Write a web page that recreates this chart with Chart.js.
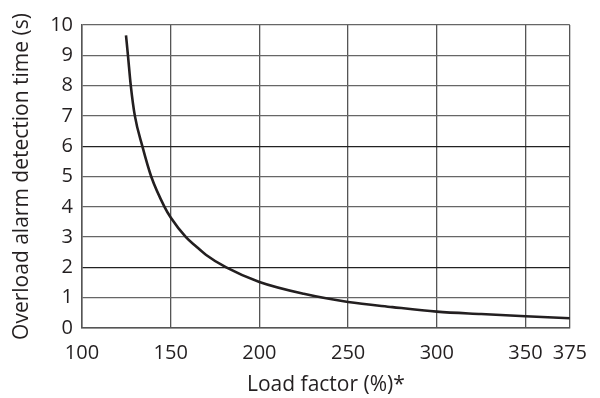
<!DOCTYPE html>
<html>
<head>
<meta charset="utf-8">
<script src="https://cdn.jsdelivr.net/npm/chart.js@4"></script>
<style>
  html, body { margin: 0; padding: 0; background: #fff; }
  #wrap { width: 600px; height: 398px; }
</style>
</head>
<body>
<div id="wrap"><canvas id="chart" width="600" height="398"></canvas></div>
<script>
// load factor (%) vs detection time (s)
const loadFactor = [124.8, 125.9, 127.5, 129.8, 134, 139, 146.5, 150, 158.6, 164.2, 169.8, 181.3, 200, 225, 250, 275, 300, 325, 350, 375];
const detectTime = [9.66, 9, 8, 7, 6, 5, 4, 3.65, 3, 2.7, 2.42, 2, 1.52, 1.13, 0.86, 0.69, 0.54, 0.46, 0.39, 0.32];
const xTicks = [100, 150, 200, 250, 300, 350, 375];
const yTicks = [0, 1, 2, 3, 4, 5, 6, 7, 8, 9, 10];

const FONT = "'Open Sans', 'Noto Sans', sans-serif";
const INK = '#231f20';

const points = loadFactor.map((x, i) => ({ x: x, y: detectTime[i] }));

new Chart(document.getElementById('chart'), {
    type: 'line',
    data: {
        datasets: [{
            data: points,
            borderColor: INK,
            borderWidth: 2.6,
            pointRadius: 0,
            fill: false,
            cubicInterpolationMode: 'monotone'
        }]
    },
    options: {
        responsive: false,
        animation: false,
        layout: { padding: { top: 25, right: 27, left: 0, bottom: 0 } },
        plugins: { legend: { display: false }, tooltip: { enabled: false } },
        scales: {
            x: {
                type: 'linear',
                min: 100,
                max: 375,
                afterBuildTicks: s => { s.ticks = xTicks.map(v => ({ value: v })); },
                afterFit: s => { s.height = 70; },
                grid: { color: '#555', lineWidth: 1.3, drawTicks: false },
                border: { color: '#555', width: 1.5 },
                ticks: { color: INK, font: { family: FONT, size: 20 }, padding: 13, maxRotation: 0 },
                title: {
                    display: true,
                    text: 'Load factor (%)*',
                    color: INK,
                    font: { family: FONT, size: 21 },
                    padding: { top: 0, bottom: 0 }
                }
            },
            y: {
                min: 0,
                max: 10,
                afterBuildTicks: s => { s.ticks = yTicks.map(v => ({ value: v })); },
                afterFit: s => { s.width = 82; },
                grid: {
                    color: c => (c.tick && (c.tick.value === 2 || c.tick.value === 6)) ? '#222' : '#666',
                    lineWidth: 1.3,
                    drawTicks: false
                },
                border: { color: '#555', width: 1.5 },
                ticks: { color: INK, font: { family: FONT, size: 20 }, padding: 9 },
                title: {
                    display: true,
                    text: 'Overload alarm detection time (s)',
                    color: INK,
                    font: { family: FONT, size: 21 },
                    padding: { top: 9, bottom: 0 }
                }
            }
        }
    }
});
</script>
</body>
</html>
